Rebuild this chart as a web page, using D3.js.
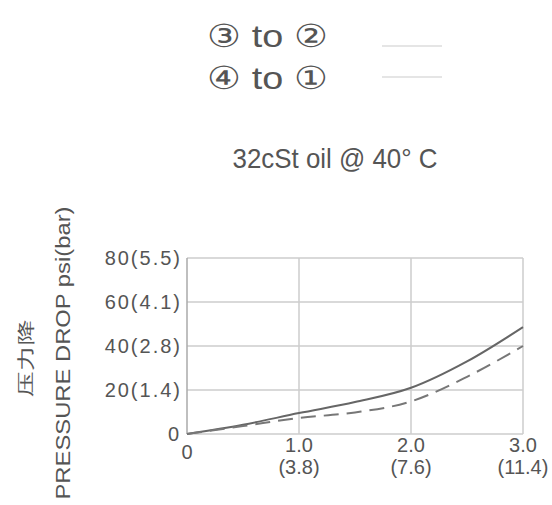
<!DOCTYPE html>
<html><head><meta charset="utf-8">
<script src="https://cdn.jsdelivr.net/npm/d3@7"></script>
<style>body{margin:0;background:#fff}svg{display:block}text{font-family:"Liberation Sans",Arial,sans-serif;fill:#555}</style>
</head><body>
<script>
const flowGpm = [0, 0.5, 1.0, 1.5, 2.0, 2.5, 3.0];
const drop3to2 = [0, 4.2, 9.5, 14.5, 21, 33, 48.6];
const drop4to1 = [0, 3.6, 7.3, 9.8, 14.8, 26, 40];
const xTicks = [0, 1, 2, 3];
const xTickTop = ["0", "1.0", "2.0", "3.0"];
const xTickBottom = ["", "(3.8)", "(7.6)", "(11.4)"];
const yTicks = [0, 20, 40, 60, 80];
const yTickLabels = ["0", "20(1.4)", "40(2.8)", "60(4.1)", "80(5.5)"];
const legendLabels = ["③ to ②", "④ to ①"];

const W = 552, H = 505;
const svg = d3.select("body").append("svg").attr("width", W).attr("height", H);
const x = d3.scaleLinear().domain([0, 3]).range([187, 523]);
const y = d3.scaleLinear().domain([0, 80]).range([434, 258]);

// grid
const g = svg.append("g");
g.selectAll("line.h").data(yTicks.slice(1)).join("line")
  .attr("x1", x(0)).attr("x2", x(3)).attr("y1", d => y(d)).attr("y2", d => y(d))
  .attr("stroke", "#cdcdcd").attr("stroke-width", 1.5);
g.selectAll("line.v").data(xTicks.slice(1)).join("line")
  .attr("y1", y(0)).attr("y2", y(80)).attr("x1", d => x(d)).attr("x2", d => x(d))
  .attr("stroke", "#cdcdcd").attr("stroke-width", 1.5);
g.append("line").attr("x1", x(0)).attr("x2", x(3)).attr("y1", y(0)).attr("y2", y(0)).attr("stroke", "#cdcdcd").attr("stroke-width", 1.5);
g.append("line").attr("x1", x(0)).attr("x2", x(0)).attr("y1", y(0)).attr("y2", y(80)).attr("stroke", "#aaa").attr("stroke-width", 1.5);

// y tick labels
svg.selectAll("text.yt").data(yTicks).join("text")
  .attr("x", (d, i) => i === 0 ? 179 : 182).attr("y", d => y(d) + 7)
  .attr("text-anchor", "end").attr("font-size", 20).attr("fill", "#777")
  .attr("letter-spacing", (d, i) => i === 0 ? 0 : 2)
  .text((d, i) => yTickLabels[i]);

// x tick labels
svg.selectAll("text.xt").data(xTicks).join("text")
  .attr("x", d => x(d)).attr("y", (d, i) => i === 0 ? 459 : 452)
  .attr("text-anchor", "middle").attr("font-size", 20).attr("fill", "#777")
  .text((d, i) => xTickTop[i]);
svg.selectAll("text.xb").data(xTicks).join("text")
  .attr("x", d => x(d)).attr("y", 474)
  .attr("text-anchor", "middle").attr("font-size", 20).attr("fill", "#777")
  .text((d, i) => xTickBottom[i]);

// curves
const line = d3.line().x((d, i) => x(flowGpm[i])).y(d => y(d)).curve(d3.curveMonotoneX);
svg.append("path").attr("d", line(drop3to2)).attr("fill", "none").attr("stroke", "#666").attr("stroke-width", 2);
svg.append("path").attr("d", line(drop4to1)).attr("fill", "none").attr("stroke", "#777").attr("stroke-width", 2).attr("stroke-dasharray", "15,8");

// axis titles
svg.append("text").attr("transform", "translate(70,353) rotate(-90)").attr("text-anchor", "middle")
  .attr("font-size", 21).attr("fill", "#666").attr("textLength", 293).attr("lengthAdjust", "spacingAndGlyphs")
  .text("PRESSURE DROP psi(bar)");
svg.append("text").attr("transform", "translate(32,358) rotate(-90)").attr("text-anchor", "middle")
  .attr("font-size", 18).attr("font-family", "Noto Sans CJK SC").attr("fill", "#555")
  .attr("textLength", 77).attr("lengthAdjust", "spacingAndGlyphs").text("压力降");

// title
svg.append("text").attr("x", 335).attr("y", 168).attr("text-anchor", "middle")
  .attr("font-size", 28).attr("fill", "#444").attr("textLength", 205).attr("lengthAdjust", "spacingAndGlyphs")
  .text("32cSt oil @ 40° C");

// legend
const leg = svg.selectAll("g.leg").data(legendLabels).join("g");
leg.append("text").attr("x", 207).attr("y", (d, i) => i === 0 ? 47 : 89).attr("font-size", 32).attr("fill", "#777")
  .attr("textLength", 121).attr("lengthAdjust", "spacingAndGlyphs").text(d => d);
leg.append("line").attr("x1", 382).attr("x2", 442).attr("y1", (d, i) => i === 0 ? 46 : 77).attr("y2", (d, i) => i === 0 ? 46 : 77)
  .attr("stroke", "#ddd").attr("stroke-width", 1.5);
</script>
</body></html>
